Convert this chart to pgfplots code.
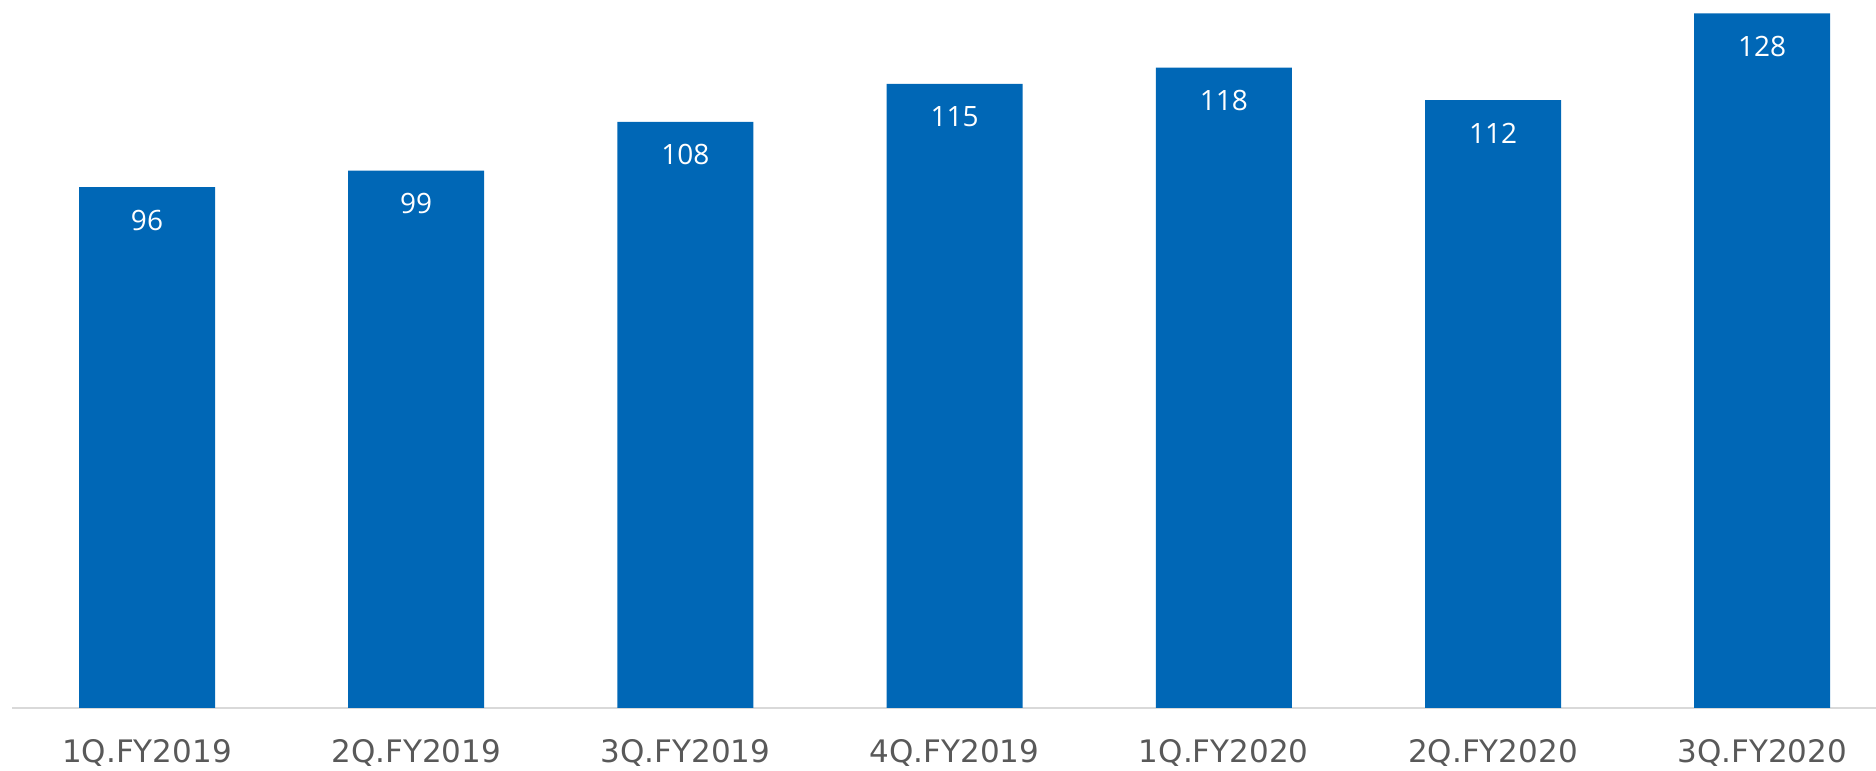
\documentclass[border=0pt]{standalone}
\usepackage{fontspec}
\setmainfont{DejaVu Sans}
\newfontfamily\labfont{Open Sans}
\usepackage{pgfplots}
\pgfplotsset{compat=1.18}
\definecolor{barblue}{HTML}{0067B6}
\definecolor{axgray}{HTML}{D9D9D9}
\definecolor{txtgray}{HTML}{595959}
\begin{document}
\begin{tikzpicture}
\begin{axis}[
  name=ax,
  scale only axis,
  width=931.8pt, height=354pt,
  xmin=-0.5, xmax=6.4227,
  ymin=0, ymax=130.46,
  axis x line=bottom,
  axis y line=none,
  x axis line style={draw=axgray, line width=0.6pt, -},
  xtick=data,
  xticklabels={1Q.FY2019,2Q.FY2019,3Q.FY2019,4Q.FY2019,1Q.FY2020,2Q.FY2020,3Q.FY2020},
  major tick length=0pt,
  xticklabel style={font=\fontsize{15.5}{18}\selectfont, text=txtgray, yshift=-12.2pt},
  ytick=\empty,
  clip=false,
  /pgf/number format/assume math mode=true,
  nodes near coords,
  every node near coord/.append style={font=\labfont\fontsize{14}{16}\selectfont, text=white, anchor=center, yshift=-16.5pt},
]
\addplot[ybar, bar width=68pt, fill=barblue, draw=none] coordinates {
  (0,96) (1,99) (2,108) (3,115) (4,118) (5,112) (6,128)
};
\end{axis}
\pgfresetboundingbox
\path[use as bounding box] ([xshift=-6.2pt,yshift=-31.5pt]ax.south west) rectangle (ax.north east);
\end{tikzpicture}
\end{document}
